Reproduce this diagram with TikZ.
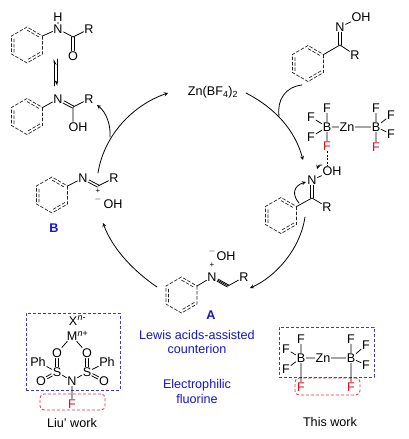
\documentclass[tikz,border=0pt]{standalone}
\usepackage{fontspec}
\setmainfont{Liberation Sans}
\usetikzlibrary{calc,arrows.meta}
\tikzset{
	atom/.style={inner sep=0.6pt,font=\fontsize{12.6}{14}\selectfont},
	txt/.style={inner sep=0pt,font=\fontsize{12.6}{14}\selectfont},
	fatom/.style={atom,text=fred},
	lbl/.style={inner sep=0pt,font=\fontsize{12.6}{14}\selectfont\bfseries,text=lblue},
	note/.style={inner sep=0pt,font=\fontsize{12.6}{14}\selectfont,text=lblue},
	sgn/.style={inner sep=0pt,text height=3pt,text depth=0pt,font=\fontsize{8}{8}\selectfont},
	cyc/.style={line width=0.8pt,-stealth},
	boxb/.style={draw=bblue,line cap=butt,dash pattern=on 3pt off 2pt,line width=1pt},
	boxr/.style={draw=bred,line cap=butt,dash pattern=on 3pt off 2pt,line width=0.8pt,rounded corners=4pt},
}
\definecolor{lblue}{RGB}{20,20,205}
\definecolor{bblue}{RGB}{60,60,200}
\definecolor{bred}{RGB}{220,50,70}
\definecolor{fred}{RGB}{225,10,35}
% dashed ring: name, x, y
\newcommand{\dashring}[3]{
	\coordinate (#1) at (#2,#3);
	\foreach \i in {1,...,6}{\coordinate (#1-\i) at ([shift={(#2,#3)}]\i*60-90:18);}
	\draw[line cap=butt,dash pattern=on 3.5pt off 1.6pt,line width=0.7pt,draw=black!85] (#1-1)--(#1-2)--(#1-3)--(#1-4)--(#1-5)--(#1-6)--cycle
	($(#1-6)!.17!(#1)$)--($(#1-1)!.17!(#1)$) ($(#1-2)!.17!(#1)$)--($(#1-3)!.17!(#1)$) ($(#1-4)!.17!(#1)$)--($(#1-5)!.17!(#1)$);
}
% double bond between two named atoms
\newcommand{\dblbond}[2]{
	\path (#1)--(#2) coordinate[pos=0] (p0) coordinate[pos=1] (q0);
	\draw ($(p0)!1.2pt!90:(q0)$)--($(q0)!1.2pt!-90:(p0)$) ($(p0)!1.2pt!-90:(q0)$)--($(q0)!1.2pt!90:(p0)$);
}
\begin{document}
\begin{tikzpicture}[x=1pt,y=-1pt,line width=0.75pt,line join=round,line cap=round]
	\useasboundingbox (0,0) rectangle (408,439);
	% amide
	\dashring{ra}{27}{45}
	\node (Na) at (58,29) [atom]{N};
	\node (Ha) at (58,17) [atom]{H};
	\coordinate (Ca) at (73,37);
	\node (Ra) at (89,29) [atom]{R};
	\node (Oa) at (73,56) [atom]{O};
	\draw (ra-1)--(Na) (Na)--(Ha) (Na)--(Ca)--(Ra);
	\dblbond{Ca}{Oa}
	% equilibrium
	\coordinate (e1) at (54,86); \coordinate (e2) at (54,59);
	\coordinate (e3) at (57,59); \coordinate (e4) at (57,86);
	\draw[-{Stealth[harpoon,swap,length=5pt,width=5pt]}] (e1)--(e2);
	\draw[-{Stealth[harpoon,swap,length=5pt,width=5pt]}] (e3)--(e4);
	% imidic acid
	\dashring{rb}{27}{116.5}
	\node (Nb) at (58,99) [atom]{N};
	\coordinate (Cb) at (73,107);
	\node (Rb) at (89,99) [atom]{R};
	\node (Ob) at (78,127) [atom]{OH};
	\draw (rb-1)--(Nb) (Cb)--(Rb) (Cb)--(Ob.north-|Cb);
	\dblbond{Nb}{Cb}
	% catalyst
	\node (Zn) at (213,92) [txt]{Zn(BF\textsubscript{4})\textsubscript{2}};
	% oxime
	\dashring{rc}{308}{63.5}
	\coordinate (Cc) at (340,45);
	\node (Nc) at (340,27) [atom]{N};
	\node (Oc) at (361,17) [atom]{OH};
	\node (Rc) at (355,55) [atom]{R};
	\draw (rc-1)--(Cc)--(Rc) (Nc)--(Oc);
	\dblbond{Cc}{Nc}
	% zinc salt
	\node (B1) at (327,127) [atom]{B};
	\node (Z1) at (347,127) [atom]{Zn};
	\node (B2) at (376,127) [atom]{B};
	\node (F1) at (327,108) [atom]{F};
	\node (F2) at (311,117) [atom]{F};
	\node (F3) at (311,137) [atom]{F};
	\node (F4) at (327,146) [fatom]{F};
	\node (F5) at (376,108) [atom]{F};
	\node (F6) at (391,115) [atom]{F};
	\node (F7) at (391,134) [atom]{F};
	\node (F8) at (376,147) [fatom]{F};
	\draw (B1)--(Z1)--(B2) (B1)--(F1) (B1)--(F2) (B1)--(F3) (B1)--(F4);
	\draw (B2)--(F5) (B2)--(F6) (B2)--(F7) (B2)--(F8);
	% activated oxime
	\dashring{rd}{281}{215.5}
	\node (Nd) at (312,180) [atom]{N};
	\coordinate (Cd) at (312,198);
	\node (Od) at (332,171) [atom]{OH};
	\node (Rd) at (327,207) [atom]{R};
	\draw (rd-1)--(Cd)--(Rd) (Nd)--(Od);
	\dblbond{Cd}{Nd}
	\draw[line cap=butt,dash pattern=on 2pt off 1.5pt] (F4)--(Od.north-|F4);
	\coordinate (d1) at (299,203); \coordinate (d2) at (306,182);
	\coordinate (d3) at (322,165); \coordinate (d4) at (317,169);
	\draw[cyc] (d1) .. controls (292,195) and (293,186) .. (d2);
	\draw[cyc] (d3) .. controls (320,164) and (318,166) .. (d4);
	% A
	\dashring{re}{181.5}{295}
	\node (Ne) at (212,277) [atom]{N};
	\coordinate (Ce) at (228,286);
	\node (Re) at (244,277) [atom]{R};
	\node (Oe) at (226,256) [atom]{OH};
	\node (pe) at (212,266) [sgn]{+};
	\node (me) at (212,252) [sgn]{$-$};
	\draw (re-1)--(Ne) (Ce)--(Re) (Ne)--(Ce);
	\dblbond{Ne}{Ce}
	\node (lA) at (211,315) [lbl]{A};
	% B
	\dashring{rf}{52}{195}
	\node (Nf) at (83,178) [atom]{N};
	\coordinate (Cf) at (98,186);
	\node (Rf) at (114,178) [atom]{R};
	\node (Of) at (113,204) [atom]{OH};
	\node (pf) at (98,191.5) [sgn]{+};
	\node (mf) at (98,200) [sgn]{$-$};
	\draw (rf-1)--(Nf) (Cf)--(Rf);
	\dblbond{Nf}{Cf}
	\node (lB) at (54,228) [lbl]{B};
	% cycle
	\coordinate (c1) at (98,173); \coordinate (c2) at (168,93);
	\coordinate (c3) at (246,93); \coordinate (c4) at (303,160);
	\coordinate (c5) at (302,85); \coordinate (c6) at (279,116);
	\coordinate (c7) at (110,137); \coordinate (c8) at (97,105);
	\coordinate (c9) at (305,217); \coordinate (c10) at (250,288);
	\coordinate (c11) at (157,287); \coordinate (c12) at (103,223);
	\draw[cyc] (c1) .. controls (104,135) and (133,105) .. (c2);
	\draw[cyc] (c3) .. controls (275,108) and (295,130) .. (c4);
	\draw[line width=0.8pt] (c5) .. controls (285,87) and (277,100) .. (c6);
	\draw[cyc] (c7) .. controls (111,125) and (106,112) .. (c8);
	\draw[cyc] (c9) .. controls (300,250) and (275,277) .. (c10);
	\draw[cyc] (c11) .. controls (135,272) and (113,250) .. (c12);
	% notes
	\node (n1) at (197,335) [note]{Lewis acids-assisted};
	\node (n2) at (197,349) [note]{counterion};
	\node (n3) at (197,385) [note]{Electrophilic};
	\node (n4) at (197,399) [note]{fluorine};
	% Liu' work
	\node (boxL) at (73,351.5) [boxb,minimum width=94pt,minimum height=77pt,inner sep=0pt]{};
	\node (boxM) at (72.5,402) [boxr,minimum width=65pt,minimum height=16pt,inner sep=0pt]{};
	\node (X) at (73,321) [atom]{X};
	\node (Xc) at (X.north east) [anchor=north west,inner sep=0pt,font=\fontsize{9}{9}\selectfont,xshift=-1pt]{\textit{n}-};
	\node (M) at (72,336) [atom]{M};
	\node (Mc) at (M.north east) [anchor=north west,inner sep=0pt,font=\fontsize{9}{9}\selectfont,xshift=-1pt]{\textit{n}+};
	\node (O1) at (57,353) [atom]{O};
	\node (O2) at (87,353) [atom]{O};
	\node (S1) at (57,372) [atom]{S};
	\node (S2) at (87,372) [atom]{S};
	\node (N0) at (72,381) [atom]{N};
	\node (F0) at (72,404) [fatom]{F};
	\node (P1) at (38,362) [atom]{Ph};
	\node (P2) at (107,362) [atom]{Ph};
	\node (O3) at (41,381) [atom]{O};
	\node (O4) at (104,381) [atom]{O};
	\draw (M)--(O1) (M)--(O2) (S1)--(N0)--(S2) (N0)--(F0) (S1)--(P1) (S2)--(P2);
	\dblbond{O1}{S1}
	\dblbond{O2}{S2}
	\dblbond{S1}{O3}
	\dblbond{S2}{O4}
	\node (tL) at (72,423) [txt]{Liu' work};
	% this work
	\node (boxT) at (326.5,352) [boxb,minimum width=95pt,minimum height=50pt,inner sep=0pt]{};
	\node (boxF) at (327.5,386.5) [boxr,minimum width=65pt,minimum height=17pt,inner sep=0pt]{};
	\node (tB1) at (301,358) [atom]{B};
	\node (tZ) at (323,358) [atom]{Zn};
	\node (tB2) at (351,358) [atom]{B};
	\node (tF1) at (301,339) [atom]{F};
	\node (tF2) at (286,349) [atom]{F};
	\node (tF3) at (286,369) [atom]{F};
	\node (tF4) at (301,387) [fatom]{F};
	\node (tF5) at (351,339) [atom]{F};
	\node (tF6) at (366,345) [atom]{F};
	\node (tF7) at (366,365) [atom]{F};
	\node (tF8) at (351,387) [fatom]{F};
	\draw (tB1)--(tZ)--(tB2) (tB1)--(tF1) (tB1)--(tF2) (tB1)--(tF3) (tB1)--(tF4);
	\draw (tB2)--(tF5) (tB2)--(tF6) (tB2)--(tF7) (tB2)--(tF8);
	\node (tT) at (330,422) [txt]{This work};
\end{tikzpicture}
\end{document}
